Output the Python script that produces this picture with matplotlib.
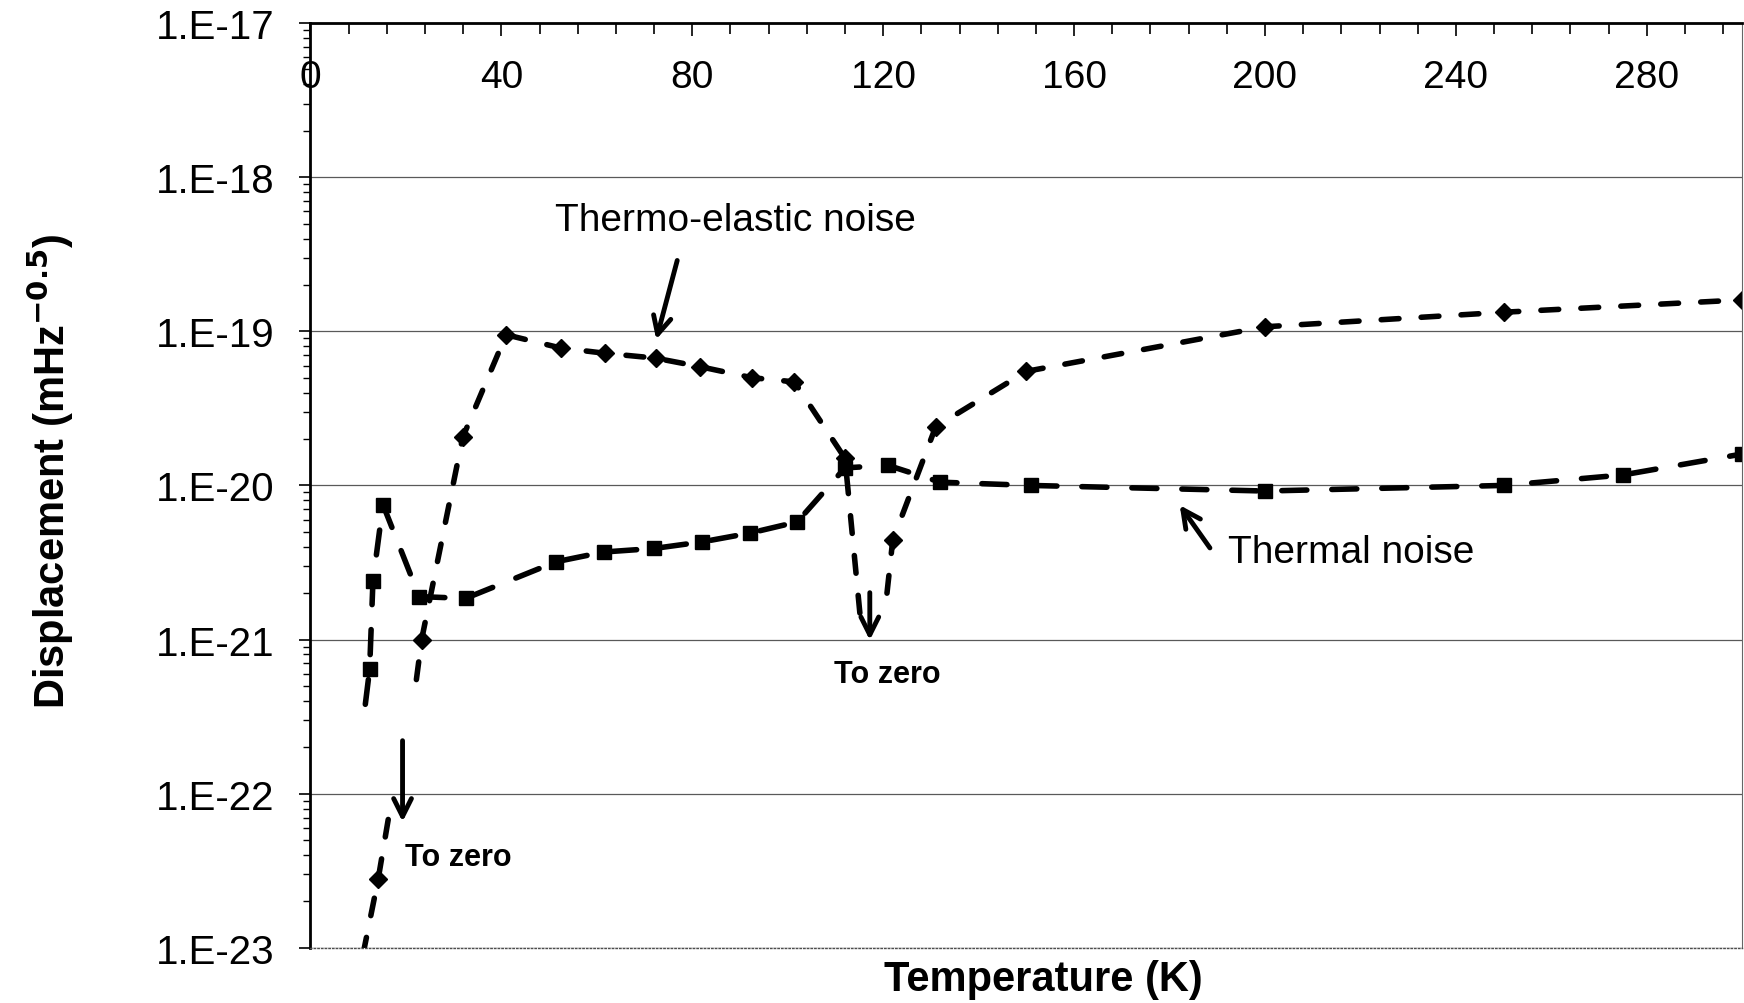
import numpy as np
import matplotlib.pyplot as plt
from matplotlib.ticker import MultipleLocator, LogLocator, FuncFormatter, NullFormatter

plt.rcParams['font.family'] = ['Liberation Sans', 'DejaVu Sans']

# Thermal noise (square markers)
thermal_T = [11.5, 12.4, 13.1, 15.2, 22.8, 32.5, 51.5, 61.5, 72, 82, 92, 102, 112, 121, 132, 151,
             200, 250, 275, 300]
thermal_val = [3.8e-22, 6.4e-22, 2.4e-21, 7.5e-21, 1.9e-21, 1.85e-21, 3.2e-21, 3.7e-21, 3.9e-21,
               4.3e-21, 4.9e-21, 5.8e-21, 1.3e-20, 1.35e-20, 1.05e-20, 1.0e-20, 0.92e-20,
               1.0e-20, 1.17e-20, 1.6e-20]

# Thermo-elastic noise (diamond markers), split where it drops to zero
te_low_T = [11.0, 14.2, 16.3]
te_low_val = [9e-24, 2.8e-23, 6.8e-23]
te_mid_T = [22.2, 23.3, 31.9, 41, 52.4, 61.8, 72.3, 81.6, 92.5, 101.4, 112, 115.2]
te_mid_val = [5.5e-22, 1.0e-21, 2.05e-20, 9.5e-20, 7.8e-20, 7.2e-20, 6.7e-20, 5.9e-20,
              5.0e-20, 4.7e-20, 1.5e-20, 1.4e-21]
te_high_T = [120.8, 122, 131, 150, 200, 250, 300]
te_high_val = [2.0e-21, 4.4e-21, 2.4e-20, 5.5e-20, 1.07e-19, 1.33e-19, 1.6e-19]

fig = plt.figure(figsize=(17.44, 10.04), dpi=100)
ax = fig.add_axes([0.178, 0.055, 0.821, 0.921])

ax.set_yscale('log')
ax.set_xlim(0, 300)
ax.set_ylim(1e-23, 1e-17)

# gridlines at each decade
ax.grid(True, axis='y', which='major', color='0.35', lw=0.9)
ax.set_axisbelow(True)

lw = 4
ax.plot(thermal_T, thermal_val, color='black', lw=lw, dashes=(4.5, 4.5),
        dash_capstyle='round', marker='s', ms=10, markevery=list(range(1, len(thermal_T))))
ax.plot(te_low_T, te_low_val, color='black', lw=lw, dashes=(3.2, 4),
        dash_capstyle='round', marker='D', ms=9, markevery=[1])
ax.plot(te_mid_T, te_mid_val, color='black', lw=lw, dashes=(3.2, 4),
        dash_capstyle='round', marker='D', ms=9, markevery=list(range(1, len(te_mid_T) - 1)))
ax.plot(te_high_T, te_high_val, color='black', lw=lw, dashes=(3.2, 4),
        dash_capstyle='round', marker='D', ms=9, markevery=list(range(1, len(te_high_T))))

# annotations
arrow = dict(arrowstyle='->', lw=3.5, color='black', mutation_scale=32)
ax.text(51.3, 5.3e-19, 'Thermo-elastic noise', fontsize=28, ha='left', va='center')
ax.annotate('', xy=(72.3, 8.5e-20), xytext=(77, 3.0e-19), arrowprops=arrow)
ax.text(192.3, 3.7e-21, 'Thermal noise', fontsize=28, ha='left', va='center')
ax.annotate('', xy=(181.8, 7.7e-21), xytext=(188.8, 3.8e-21), arrowprops=arrow)
ax.annotate('', xy=(19.3, 6.3e-23), xytext=(19.3, 2.3e-22), arrowprops=arrow)
ax.text(19.8, 3.9e-23, 'To zero', fontsize=22, fontweight='bold', ha='left', va='center')
ax.annotate('', xy=(117.2, 9.5e-22), xytext=(117.2, 2.1e-21), arrowprops=arrow)
ax.text(109.6, 6.0e-22, 'To zero', fontsize=22, fontweight='bold', ha='left', va='center')

# x axis on top, labels inside the plot
ax.xaxis.set_major_locator(MultipleLocator(40))
ax.xaxis.set_minor_locator(MultipleLocator(8))
ax.tick_params(axis='x', which='both', top=True, bottom=False, labeltop=True,
               labelbottom=False, direction='in')
ax.tick_params(axis='x', which='major', length=9, width=1.2, pad=-52, labelsize=28)
ax.tick_params(axis='x', which='minor', length=8, width=1.2)

ax.yaxis.set_major_locator(LogLocator(base=10, numticks=10))
ax.yaxis.set_minor_locator(LogLocator(base=10, subs=np.arange(2, 10), numticks=10))
ax.yaxis.set_minor_formatter(NullFormatter())
ax.yaxis.set_major_formatter(FuncFormatter(lambda v, p: '1.E%d' % round(np.log10(v))))
ax.tick_params(axis='y', which='major', direction='out', length=8, width=1.2, pad=18, labelsize=29)
ax.tick_params(axis='y', which='minor', direction='out', length=5, width=1)

for s in ['top', 'left']:
    ax.spines[s].set_linewidth(2)
ax.spines['bottom'].set_linewidth(1)
ax.spines['bottom'].set_linestyle(':')
ax.spines['bottom'].set_color('0.3')
ax.spines['right'].set_linewidth(0.8)
ax.spines['right'].set_color('0.4')

ax.set_xlabel('Temperature (K)', fontsize=30, fontweight='bold')
ax.xaxis.set_label_position('bottom')
ax.xaxis.set_label_coords(0.512, -0.012)
ax.set_ylabel('Displacement (mHz$^{\\mathbf{-0.5}}$)', fontsize=30, fontweight='bold')
ax.yaxis.set_label_coords(-0.164, 0.516)

fig.savefig('out.png', dpi=100)
